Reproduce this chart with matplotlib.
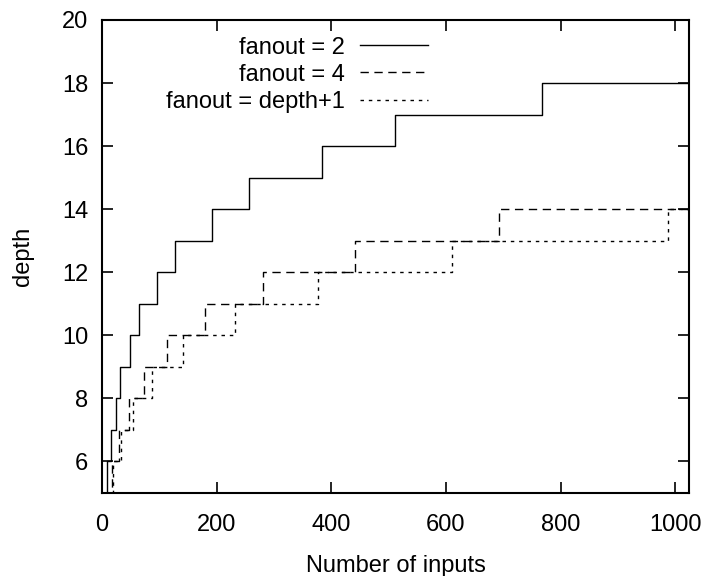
import matplotlib
matplotlib.use('Agg')
import matplotlib.pyplot as plt
import numpy as np

# data (step positions in number of inputs)
fan2_x = [4, 8, 16, 24, 32, 48, 64, 96, 128, 192, 256, 384, 512, 768, 1024]
fan2_y = [5, 6, 7, 8, 9, 10, 11, 12, 13, 14, 15, 16, 17, 18, 18]

fan4_x = [4, 17, 29.5, 46.5, 73, 114, 179, 281, 441, 692, 1024]
fan4_y = [5, 6, 7, 8, 9, 10, 11, 12, 13, 14, 14]

fand_x = [4, 19, 33, 54, 88, 142, 232, 377, 610, 988, 1024]
fand_y = [5, 6, 7, 8, 9, 10, 11, 12, 13, 14, 14]

labels = ['fanout = 2', 'fanout = 4', 'fanout = depth+1']

plt.rcParams['font.family'] = ['Liberation Sans', 'DejaVu Sans']
fs = 17

fig = plt.figure(figsize=(7.07, 5.76), dpi=100)
ax = fig.add_axes([0.1443, 0.1441, 0.8302, 0.8212])

ax.step(fan2_x, fan2_y, where='post', color='black', lw=1.0, label=labels[0])
ax.step(fan4_x, fan4_y, where='post', color='black', lw=1.0,
        dashes=(6, 4), label=labels[1])
ax.step(fand_x, fand_y, where='post', color='black', lw=1.0,
        dashes=(2.5, 3.5), label=labels[2])

ax.set_xlim(0, 1024)
ax.set_ylim(5, 20)
ax.set_xticks(np.arange(0, 1001, 200))
ax.set_yticks(np.arange(6, 21, 2))

ax.tick_params(direction='in', length=8, width=1.2, top=True, right=True,
               labelsize=fs, pad=10)
ax.tick_params(axis='x', pad=15)
for s in ax.spines.values():
    s.set_linewidth(1.5)

ax.set_xlabel('Number of inputs', fontsize=fs, labelpad=14)
ax.set_ylabel('depth', fontsize=fs, labelpad=20)

ax.legend(loc='upper right', bbox_to_anchor=(0.556, 0.965), frameon=False,
          markerfirst=False, fontsize=fs, handlelength=2.9,
          handletextpad=0.65, labelspacing=0.22, borderpad=0, borderaxespad=0)

plt.savefig('out.png', dpi=100)
